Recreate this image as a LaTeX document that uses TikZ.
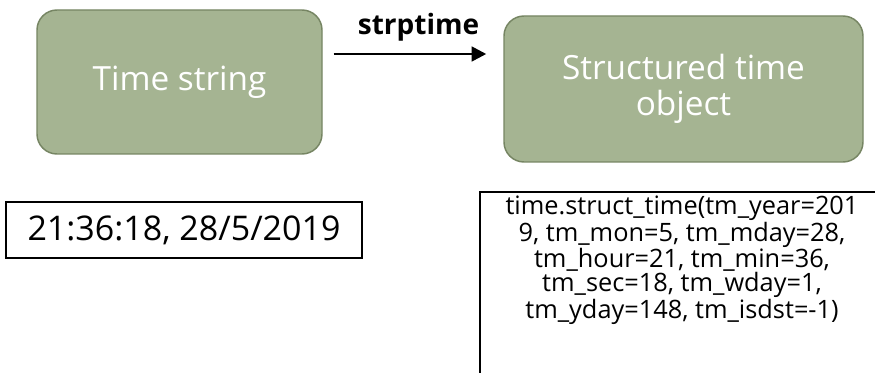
\documentclass[tikz,border=0pt]{standalone}
\usepackage{fontspec}
\setmainfont{Open Sans}
\usepackage{xcolor}
\usepackage{tikz}
\usetikzlibrary{arrows.meta}

\definecolor{sage}{RGB}{165,180,146}
\definecolor{sagedark}{RGB}{118,133,99}

\begin{document}
\begin{tikzpicture}[x=0.75pt,y=-0.75pt]
\tikzstyle{stage}=[rectangle,rounded corners=15pt,fill=sage,draw=sagedark,line width=1.1pt,
  text=white,align=center,font=\fontsize{25pt}{27pt}\selectfont]
\tikzstyle{value}=[rectangle,draw=black,line width=1.5pt,align=center]
\tikzstyle{flow}=[line width=2pt,-{Triangle[length=11pt,width=11pt]}]
    \useasboundingbox (0,0) rectangle (875,373);

    % the two stages and the call between them
    \node[stage,minimum width=213.75pt,minimum height=108pt] (timestr) at (179.5,82) {Time string};
    \node[stage,minimum width=269.25pt,minimum height=109.5pt] (structobj) at (683.5,89) {Structured time\\object};
    \draw[flow,shorten >=12.75pt] (timestr.east) ++(11,-28) coordinate (calltail)
        -- (calltail -| structobj.west) node[midway,above=5pt,font=\fontsize{21pt}{24pt}\selectfont\bfseries] {strptime};

    % sample values
    \node[value,minimum width=267pt,minimum height=42pt,font=\fontsize{25.5pt}{27pt}\selectfont] (timeval) at (184,230) {21:36:18, 28/5/2019};
    \node[value,anchor=north west,minimum width=303pt,text depth=150pt,inner ysep=3pt,
      font=\fontsize{19pt}{18pt}\selectfont] (structval) at (479,191)
      {time.struct\_time(tm\_year=201\\9, tm\_mon=5, tm\_mday=28,\\tm\_hour=21, tm\_min=36,\\tm\_sec=18, tm\_wday=1,\\tm\_yday=148, tm\_isdst=-1)};

\end{tikzpicture}
\end{document}
